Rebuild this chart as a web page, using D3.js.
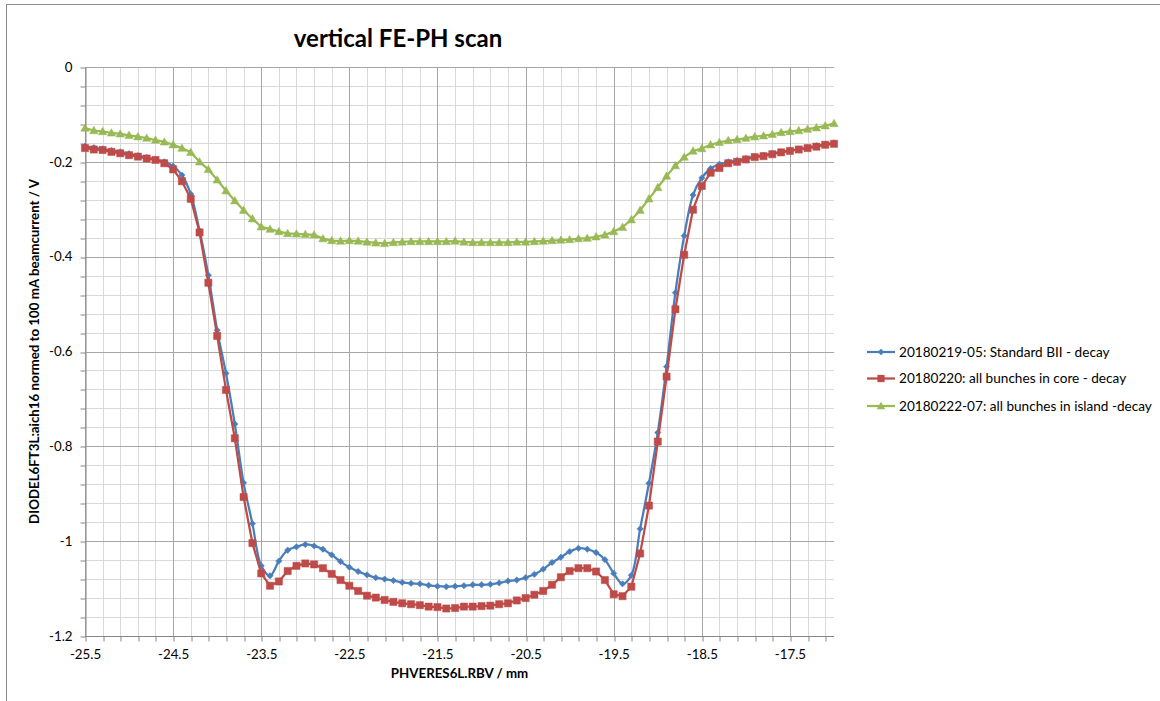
<!DOCTYPE html>
<html>
<head>
<meta charset="utf-8">
<script src="https://cdn.jsdelivr.net/npm/d3@7"></script>
<style>
  html, body { margin: 0; padding: 0; background: #fff; }
  svg { display: block; font-family: Lato, "Open Sans", sans-serif; }
</style>
</head>
<body>
<svg id="chart" width="1160" height="701"></svg>
<script>
// ---------------- data ----------------
const xPositions = [-25.5,-25.4,-25.3,-25.2,-25.1,-25.0,-24.9,-24.8,-24.7,-24.6,
  -24.5,-24.4,-24.3,-24.2,-24.1,-24.0,-23.9,-23.8,-23.7,-23.6,
  -23.5,-23.4,-23.3,-23.2,-23.1,-23.0,-22.9,-22.8,-22.7,-22.6,
  -22.5,-22.4,-22.3,-22.2,-22.1,-22.0,-21.9,-21.8,-21.7,-21.6,
  -21.5,-21.4,-21.3,-21.2,-21.1,-21.0,-20.9,-20.8,-20.7,-20.6,
  -20.5,-20.4,-20.3,-20.2,-20.1,-20.0,-19.9,-19.8,-19.7,-19.6,
  -19.5,-19.4,-19.3,-19.2,-19.1,-19.0,-18.9,-18.8,-18.7,-18.6,
  -18.5,-18.4,-18.3,-18.2,-18.1,-18.0,-17.9,-17.8,-17.7,-17.6,
  -17.5,-17.4,-17.3,-17.2,-17.1,-17.0];

const seriesStandard = [-0.167,-0.170,-0.173,-0.176,-0.179,-0.183,-0.187,-0.191,-0.195,-0.200,
  -0.209,-0.228,-0.268,-0.345,-0.439,-0.555,-0.646,-0.753,-0.877,-0.963,
  -1.052,-1.073,-1.042,-1.019,-1.012,-1.007,-1.010,-1.017,-1.029,-1.043,
  -1.055,-1.064,-1.071,-1.077,-1.080,-1.083,-1.087,-1.089,-1.090,-1.093,
  -1.095,-1.096,-1.095,-1.094,-1.092,-1.092,-1.091,-1.088,-1.084,-1.082,
  -1.077,-1.070,-1.059,-1.045,-1.034,-1.022,-1.015,-1.017,-1.024,-1.039,
  -1.068,-1.090,-1.072,-0.974,-0.878,-0.771,-0.632,-0.476,-0.356,-0.270,
  -0.234,-0.214,-0.205,-0.200,-0.197,-0.193,-0.189,-0.186,-0.182,-0.179,
  -0.176,-0.173,-0.170,-0.166,-0.163,-0.160];

const seriesCore = [-0.171,-0.174,-0.175,-0.179,-0.182,-0.186,-0.189,-0.193,-0.196,-0.203,
  -0.216,-0.241,-0.278,-0.349,-0.455,-0.567,-0.681,-0.783,-0.907,-1.004,
  -1.068,-1.094,-1.085,-1.063,-1.052,-1.047,-1.049,-1.057,-1.069,-1.082,
  -1.094,-1.105,-1.115,-1.119,-1.124,-1.128,-1.131,-1.133,-1.135,-1.138,
  -1.139,-1.142,-1.141,-1.138,-1.138,-1.137,-1.136,-1.133,-1.131,-1.125,
  -1.120,-1.113,-1.105,-1.092,-1.076,-1.063,-1.057,-1.057,-1.064,-1.082,
  -1.112,-1.116,-1.096,-1.026,-0.925,-0.790,-0.653,-0.511,-0.396,-0.301,
  -0.251,-0.223,-0.213,-0.203,-0.200,-0.195,-0.190,-0.188,-0.184,-0.180,
  -0.177,-0.174,-0.171,-0.168,-0.164,-0.162];

const seriesIsland = [-0.129,-0.134,-0.136,-0.139,-0.141,-0.144,-0.147,-0.150,-0.154,-0.158,
  -0.164,-0.171,-0.180,-0.200,-0.216,-0.238,-0.261,-0.282,-0.302,-0.320,
  -0.337,-0.342,-0.347,-0.351,-0.352,-0.353,-0.354,-0.362,-0.366,-0.367,
  -0.366,-0.367,-0.369,-0.371,-0.372,-0.370,-0.369,-0.368,-0.368,-0.368,
  -0.368,-0.368,-0.367,-0.369,-0.370,-0.370,-0.370,-0.370,-0.370,-0.369,
  -0.369,-0.368,-0.367,-0.366,-0.365,-0.364,-0.362,-0.361,-0.358,-0.354,
  -0.347,-0.338,-0.322,-0.302,-0.278,-0.254,-0.230,-0.208,-0.190,-0.177,
  -0.172,-0.164,-0.159,-0.155,-0.153,-0.150,-0.147,-0.145,-0.142,-0.138,
  -0.136,-0.134,-0.131,-0.128,-0.124,-0.119];

const seriesNames = [
  "20180219-05: Standard BII - decay",
  "20180220: all bunches in core - decay",
  "20180222-07: all bunches in island -decay"
];

const xTickValues = [-25.5,-24.5,-23.5,-22.5,-21.5,-20.5,-19.5,-18.5,-17.5];
const xTickLabels = ["-25.5","-24.5","-23.5","-22.5","-21.5","-20.5","-19.5","-18.5","-17.5"];
const yTickValues = [0,-0.2,-0.4,-0.6,-0.8,-1.0,-1.2];
const yTickLabels = ["0","-0.2","-0.4","-0.6","-0.8","-1","-1.2"];

const titleText = "vertical FE-PH scan";
const xAxisTitle = "PHVERES6L.RBV / mm";
const yAxisTitle = "DIODEL6FT3L:aich16 normed to 100 mA beamcurrent / V";

// ---------------- layout ----------------
const svg = d3.select("#chart");
const plot = { left: 85, top: 67, right: 834, bottom: 636 };

const x = d3.scaleLinear().domain([-25.5, -17.0]).range([plot.left, plot.right]);
const y = d3.scaleLinear().domain([-1.2, 0]).range([plot.bottom, plot.top]);

// chart border
svg.append("rect")
  .attr("x", 6.5).attr("y", 4.5).attr("width", 1170).attr("height", 710)
  .attr("fill", "#fff").attr("stroke", "#8c8c8c").attr("stroke-width", 1);

// minor / major grid positions
const xMinor = d3.range(0, 43).map(k => -25.5 + k * 0.2);
const yMinor = d3.range(0, 31).map(k => -k * 0.04);
const isXMajor = v => { const r = (v + 25.5); return Math.abs(r - Math.round(r)) < 1e-6; };
const isYMajor = v => { const r = Math.abs(v / 0.2 - Math.round(v / 0.2)); return r < 1e-6; };

const grid = svg.append("g");
grid.selectAll("line.vminor").data(xMinor.filter(v => !isXMajor(v))).join("line")
  .attr("x1", d => Math.round(x(d)) + 0.5).attr("x2", d => Math.round(x(d)) + 0.5)
  .attr("y1", plot.top).attr("y2", plot.bottom)
  .attr("stroke", "#d9d9d9").attr("stroke-width", 1);
grid.selectAll("line.hminor").data(yMinor.filter(v => !isYMajor(v))).join("line")
  .attr("y1", d => Math.round(y(d)) + 0.5).attr("y2", d => Math.round(y(d)) + 0.5)
  .attr("x1", plot.left).attr("x2", plot.right)
  .attr("stroke", "#d9d9d9").attr("stroke-width", 1);
grid.selectAll("line.vmajor").data(xMinor.filter(v => isXMajor(v))).join("line")
  .attr("x1", d => Math.round(x(d)) + 0.5).attr("x2", d => Math.round(x(d)) + 0.5)
  .attr("y1", plot.top).attr("y2", plot.bottom)
  .attr("stroke", "#a6a6a6").attr("stroke-width", 1);
grid.selectAll("line.hmajor").data(yMinor.filter(v => isYMajor(v))).join("line")
  .attr("y1", d => Math.round(y(d)) + 0.5).attr("y2", d => Math.round(y(d)) + 0.5)
  .attr("x1", plot.left).attr("x2", plot.right)
  .attr("stroke", "#a6a6a6").attr("stroke-width", 1);

// axes
const yLabelFor = v => {
  const i = yTickValues.findIndex(t => Math.abs(t - v) < 1e-6);
  return i >= 0 ? yTickLabels[i] : "";
};
const xLabelFor = v => {
  const i = xTickValues.findIndex(t => Math.abs(t - v) < 1e-6);
  return i >= 0 ? xTickLabels[i] : "";
};

const yAxis = svg.append("g")
  .attr("transform", `translate(${plot.left + 0.5},0)`)
  .call(d3.axisLeft(y).tickValues(yMinor).tickFormat(yLabelFor).tickSize(5).tickPadding(8).tickSizeOuter(0));
const xAxis = svg.append("g")
  .attr("transform", `translate(0,${plot.bottom + 0.5})`)
  .call(d3.axisBottom(x).tickValues(xMinor).tickFormat(xLabelFor).tickSize(5).tickPadding(8).tickSizeOuter(0));

[yAxis, xAxis].forEach(g => {
  g.select(".domain").attr("stroke", "#868686");
  g.selectAll(".tick line").attr("stroke", "#868686");
  g.selectAll(".tick text").attr("fill", "#000").style("font-size", "13.3px").style("font-family", "Lato, sans-serif");
});
xAxis.select(".domain").attr("d", `M${plot.left},0H${plot.right}`);
yAxis.selectAll(".tick line").attr("transform", d => `translate(0,${Math.round(y(d)) + 0.5 - y(d)})`);
xAxis.selectAll(".tick line").attr("transform", d => `translate(${Math.round(x(d)) + 0.5 - x(d)},0)`);

// titles
svg.append("text")
  .attr("x", 398).attr("y", 47).attr("text-anchor", "middle")
  .style("font-size", "24px").style("font-weight", "bold").attr("fill", "#000")
  .text(titleText);

svg.append("text")
  .attr("x", (plot.left + plot.right) / 2).attr("y", 678).attr("text-anchor", "middle")
  .style("font-size", "13.3px").style("font-weight", "bold").attr("fill", "#000")
  .text(xAxisTitle);

svg.append("text")
  .attr("transform", `translate(39,${(plot.top + plot.bottom) / 2}) rotate(-90)`)
  .attr("text-anchor", "middle")
  .style("font-size", "13.3px").style("font-weight", "bold").attr("fill", "#000")
  .text(yAxisTitle);

// series
const series = [
  { name: seriesNames[0], values: seriesStandard, color: "#4A7EBB", marker: "diamond", curve: d3.curveCatmullRom.alpha(0.5) },
  { name: seriesNames[1], values: seriesCore, color: "#BE4B48", marker: "square", curve: d3.curveLinear },
  { name: seriesNames[2], values: seriesIsland, color: "#98B954", marker: "triangle", curve: d3.curveLinear }
];

const markerPath = {
  diamond: "M0,-3.2L3.2,0L0,3.2L-3.2,0Z",
  square: "M-3.6,-3.6H3.6V3.6H-3.6Z",
  triangle: "M0,-4.2L4.2,3.2H-4.2Z"
};

const plotG = svg.append("g");
series.forEach(s => {
  const pts = xPositions.map((xv, i) => [xv, s.values[i]]);
  const line = d3.line().x(d => x(d[0])).y(d => y(d[1])).curve(s.curve);
  const g = plotG.append("g");
  g.append("path").datum(pts)
    .attr("d", line).attr("fill", "none")
    .attr("stroke", s.color).attr("stroke-width", 2.25).attr("stroke-linejoin", "round");
  g.selectAll("path.m").data(pts).join("path")
    .attr("class", "m")
    .attr("transform", d => `translate(${x(d[0])},${y(d[1])})`)
    .attr("d", markerPath[s.marker])
    .attr("fill", s.color).attr("stroke", s.color).attr("stroke-width", 0.5);
});

// legend
const legendRows = [352, 378.5, 406];
const legend = svg.append("g");
series.forEach((s, i) => {
  const ly = legendRows[i];
  legend.append("line")
    .attr("x1", 867).attr("x2", 895).attr("y1", ly).attr("y2", ly)
    .attr("stroke", s.color).attr("stroke-width", 2.25);
  legend.append("path")
    .attr("transform", `translate(881,${ly})`)
    .attr("d", markerPath[s.marker])
    .attr("fill", s.color);
  legend.append("text")
    .attr("x", 899).attr("y", ly).attr("dy", "0.35em")
    .style("font-size", "13.6px").attr("fill", "#000")
    .text(s.name);
});
</script>
</body>
</html>
